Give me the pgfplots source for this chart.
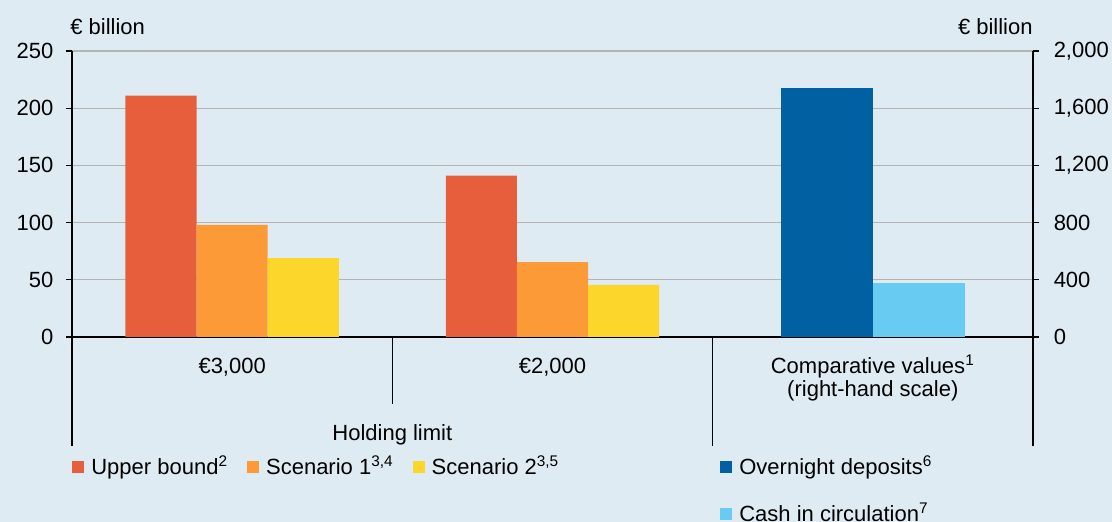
\documentclass[border=0pt]{standalone}
\usepackage{pgfplots}
\pgfplotsset{compat=1.18}
\usepackage{fontspec}
\setmainfont{Liberation Sans}

\definecolor{bg}{RGB}{222,235,243}
\definecolor{gridgray}{RGB}{180,180,180}
\definecolor{cUpper}{RGB}{230,94,60}
\definecolor{cScenA}{RGB}{253,154,56}
\definecolor{cScenB}{RGB}{253,214,44}
\definecolor{cDepos}{RGB}{0,96,161}
\definecolor{cCash}{RGB}{104,203,242}

\pgfplotsset{
  bars/.style={ybar, bar width=#1, bar shift=0pt, draw=none},
  lg/.style={legend image code/.code={\fill[#1] (0pt,-3pt) rectangle (6pt,3pt);}},
  common/.style={
    at={(36pt,92.5pt)}, anchor=south west,
    width=480.5pt, height=143pt, scale only axis,
    xmin=0, xmax=3,
    axis line style={line width=0.6pt, -},
    tick align=outside, major tick length=3pt,
    ytick style={line width=0.6pt, black},
    /pgf/number format/assume math mode=true,
    /pgf/number format/1000 sep={,},
    clip=false,
  },
}
\newcommand{\supstrut}{\vphantom{X\textsuperscript{1}}}

\begin{document}
\fontsize{11}{11.5}\selectfont
\begin{tikzpicture}
\fill[bg] (0,0) rectangle (556pt,261pt);

% left-hand scale: holding limits
\begin{axis}[common,
  ymin=0, ymax=250,
  axis x line*=bottom, axis y line*=left,
  ytick={0,50,...,250},
  yticklabel style={xshift=-2.5pt},
  ymajorgrids, grid style={line width=0.6pt, gridgray},
  xtick={0.5,1.5,2.5},
  xticklabels={{\supstrut€3,000},{\supstrut€2,000},{Comparative values\textsuperscript{1}\\(right-hand scale)}},
  xtick style={draw=none},
  xticklabel style={align=center, anchor=north, yshift=-2pt},
  legend columns=3,
  legend style={draw=none, fill=none, at={(-0.0063,-0.4545)}, anchor=west,
    /tikz/every odd column/.append style={column sep=1.5pt},
    /tikz/every even column/.append style={column sep=7.5pt}},
  legend cell align=left,
]
\addplot[bars=0.222, fill=cUpper, lg=cUpper] coordinates {(0.278,211) (1.278,141)};
\addlegendentry{Upper bound\textsuperscript{2}}
\addplot[bars=0.222, fill=cScenA, lg=cScenA] coordinates {(0.500,98) (1.500,65.5)};
\addlegendentry{Scenario 1\textsuperscript{3,4}}
\addplot[bars=0.222, fill=cScenB, lg=cScenB] coordinates {(0.722,69) (1.722,45.5)};
\addlegendentry{Scenario 2\textsuperscript{3,5}}

% group separators below the category axis
\draw[line width=0.6pt] (axis cs:0,0) -- ++(0pt,-54.5pt);
\draw[line width=0.6pt] (axis cs:1,0) -- ++(0pt,-33.5pt);
\draw[line width=0.6pt] (axis cs:2,0) -- ++(0pt,-54.5pt);
\draw[line width=0.6pt] (axis cs:3,0) -- ++(0pt,-54.5pt);
\node at ([yshift=-49pt]axis cs:1,0) {Holding limit};
\end{axis}

% right-hand scale: comparative values
\begin{axis}[common,
  ymin=0, ymax=2000,
  axis x line=none, axis y line*=right,
  ytick={0,400,...,2000},
  yticklabel style={xshift=3.5pt},
  legend columns=1,
  legend style={draw=none, fill=none, at={(0.668,-0.535)}, anchor=west,
    /tikz/every odd column/.append style={column sep=1.5pt},
    row sep=8.5pt},
  legend cell align=left,
]
\addplot[bars=0.288, fill=cDepos, lg=cDepos] coordinates {(2.356,1740)};
\addlegendentry{Overnight deposits\textsuperscript{6}}
\addplot[bars=0.288, fill=cCash, lg=cCash] coordinates {(2.644,380)};
\addlegendentry{Cash in circulation\textsuperscript{7}}
\end{axis}

\node[anchor=west, inner sep=0pt] at (35pt,247.5pt) {€ billion};
\node[anchor=east, inner sep=0pt] at (516.5pt,247.5pt) {€ billion};

\pgfresetboundingbox
\useasboundingbox (0,0) rectangle (556pt,261pt);
\end{tikzpicture}
\end{document}
